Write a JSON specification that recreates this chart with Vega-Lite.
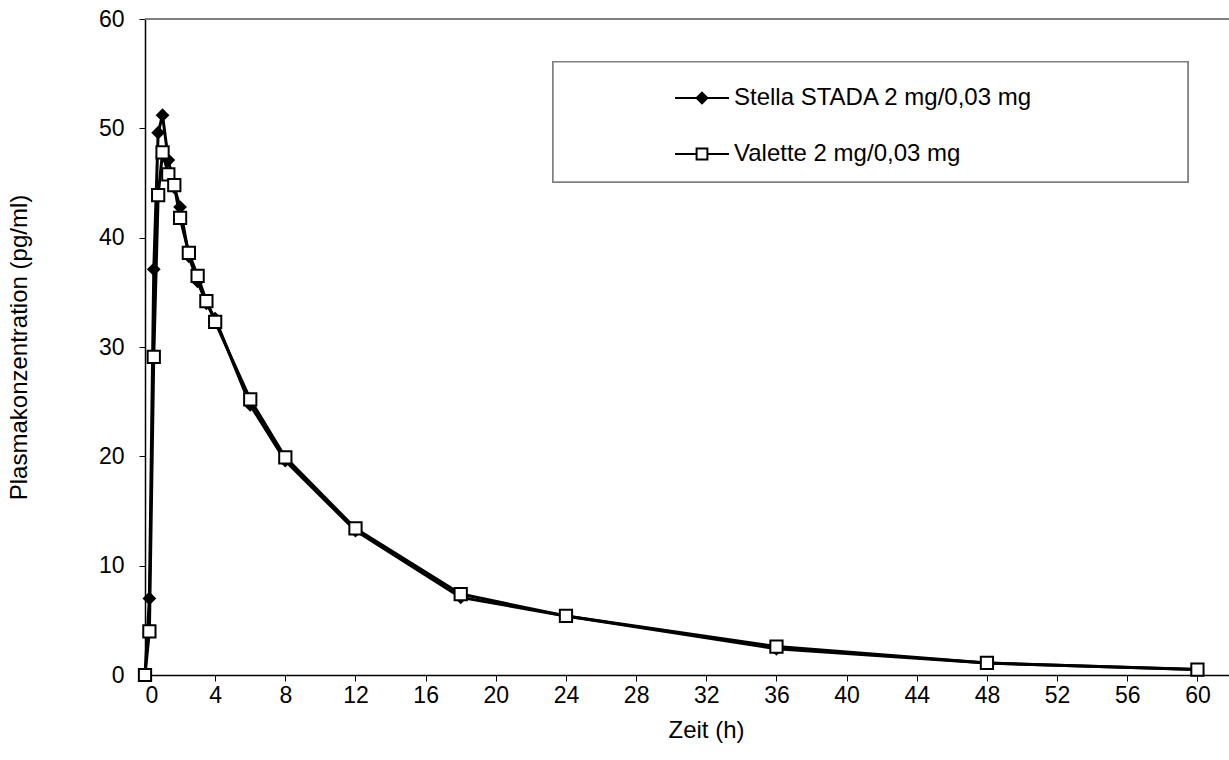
{
  "$schema": "https://vega.github.io/schema/vega-lite/v6.json",
  "autosize": "none",
  "width": 1084,
  "height": 656,
  "padding": {"left": 145, "top": 19, "right": 0, "bottom": 85},
  "background": "white",
  "config": {
    "view": {"stroke": null},
    "font": "Liberation Sans",
    "axis": {"labelFont": "Liberation Sans", "titleFont": "Liberation Sans", "labelColor": "black", "titleColor": "black", "titleFontWeight": "normal", "grid": false, "domainColor": "black", "tickColor": "black", "domainWidth": 1.5, "tickWidth": 1, "tickSize": 6}
  },
  "data": {
    "values": [
      {"t": 0, "c": 0, "s": "Stella STADA 2 mg/0,03 mg"},
      {"t": 0.25, "c": 7.0, "s": "Stella STADA 2 mg/0,03 mg"},
      {"t": 0.5, "c": 37.1, "s": "Stella STADA 2 mg/0,03 mg"},
      {"t": 0.75, "c": 49.6, "s": "Stella STADA 2 mg/0,03 mg"},
      {"t": 1, "c": 51.2, "s": "Stella STADA 2 mg/0,03 mg"},
      {"t": 1.33, "c": 47.1, "s": "Stella STADA 2 mg/0,03 mg"},
      {"t": 1.67, "c": 44.6, "s": "Stella STADA 2 mg/0,03 mg"},
      {"t": 2, "c": 42.8, "s": "Stella STADA 2 mg/0,03 mg"},
      {"t": 2.5, "c": 38.3, "s": "Stella STADA 2 mg/0,03 mg"},
      {"t": 3, "c": 36.0, "s": "Stella STADA 2 mg/0,03 mg"},
      {"t": 3.5, "c": 34.0, "s": "Stella STADA 2 mg/0,03 mg"},
      {"t": 4, "c": 32.6, "s": "Stella STADA 2 mg/0,03 mg"},
      {"t": 6, "c": 24.7, "s": "Stella STADA 2 mg/0,03 mg"},
      {"t": 8, "c": 19.6, "s": "Stella STADA 2 mg/0,03 mg"},
      {"t": 12, "c": 13.2, "s": "Stella STADA 2 mg/0,03 mg"},
      {"t": 18, "c": 7.1, "s": "Stella STADA 2 mg/0,03 mg"},
      {"t": 24, "c": 5.4, "s": "Stella STADA 2 mg/0,03 mg"},
      {"t": 36, "c": 2.4, "s": "Stella STADA 2 mg/0,03 mg"},
      {"t": 48, "c": 1.1, "s": "Stella STADA 2 mg/0,03 mg"},
      {"t": 60, "c": 0.5, "s": "Stella STADA 2 mg/0,03 mg"},
      {"t": 0, "c": 0, "s": "Valette 2 mg/0,03 mg"},
      {"t": 0.25, "c": 4.0, "s": "Valette 2 mg/0,03 mg"},
      {"t": 0.5, "c": 29.1, "s": "Valette 2 mg/0,03 mg"},
      {"t": 0.75, "c": 43.9, "s": "Valette 2 mg/0,03 mg"},
      {"t": 1, "c": 47.8, "s": "Valette 2 mg/0,03 mg"},
      {"t": 1.33, "c": 45.8, "s": "Valette 2 mg/0,03 mg"},
      {"t": 1.67, "c": 44.8, "s": "Valette 2 mg/0,03 mg"},
      {"t": 2, "c": 41.8, "s": "Valette 2 mg/0,03 mg"},
      {"t": 2.5, "c": 38.6, "s": "Valette 2 mg/0,03 mg"},
      {"t": 3, "c": 36.5, "s": "Valette 2 mg/0,03 mg"},
      {"t": 3.5, "c": 34.2, "s": "Valette 2 mg/0,03 mg"},
      {"t": 4, "c": 32.3, "s": "Valette 2 mg/0,03 mg"},
      {"t": 6, "c": 25.2, "s": "Valette 2 mg/0,03 mg"},
      {"t": 8, "c": 19.9, "s": "Valette 2 mg/0,03 mg"},
      {"t": 12, "c": 13.4, "s": "Valette 2 mg/0,03 mg"},
      {"t": 18, "c": 7.4, "s": "Valette 2 mg/0,03 mg"},
      {"t": 24, "c": 5.4, "s": "Valette 2 mg/0,03 mg"},
      {"t": 36, "c": 2.6, "s": "Valette 2 mg/0,03 mg"},
      {"t": 48, "c": 1.1, "s": "Valette 2 mg/0,03 mg"},
      {"t": 60, "c": 0.5, "s": "Valette 2 mg/0,03 mg"}
    ]
  },
  "layer": [
    {
      "mark": {"type": "rect", "fill": "white", "stroke": "#808080", "strokeWidth": 1.5},
      "encoding": {
        "x": {"datum": 23.26, "type": "quantitative"},
        "x2": {"datum": 59.46},
        "y": {"datum": 56.1, "type": "quantitative"},
        "y2": {"datum": 45.1}
      }
    },
    {
      "mark": {"type": "rule", "color": "#808080", "strokeWidth": 2},
      "encoding": {"y": {"datum": 60, "type": "quantitative"}}
    },
    {
      "mark": {"type": "line", "color": "black", "strokeWidth": 3},
      "encoding": {
        "x": {"field": "t", "type": "quantitative", "scale": {"domain": [0, 61.8], "nice": false, "zero": false},
              "axis": {"values": [0,4,8,12,16,20,24,28,32,36,40,44,48,52,56,60], "title": "Zeit (h)", "labelFontSize": 23, "titleFontSize": 24, "labelPadding": 3, "titleX": 561, "titleY": 55, "titleBaseline": "middle"}},
        "y": {"field": "c", "type": "quantitative", "scale": {"domain": [0, 60], "nice": false},
              "axis": {"values": [0,10,20,30,40,50,60], "title": "Plasmakonzentration (pg/ml)", "labelFontSize": 23, "titleFontSize": 24, "labelPadding": 15, "titleX": -126, "titleBaseline": "middle"}},
        "detail": {"field": "s"}
      }
    },
    {
      "transform": [{"filter": "datum.s === 'Stella STADA 2 mg/0,03 mg'"}],
      "mark": {"type": "point", "shape": "diamond", "filled": true, "color": "black", "size": 190, "opacity": 1},
      "encoding": {
        "x": {"field": "t", "type": "quantitative"},
        "y": {"field": "c", "type": "quantitative"}
      }
    },
    {
      "transform": [{"filter": "datum.s === 'Valette 2 mg/0,03 mg'"}],
      "mark": {"type": "point", "shape": "square", "filled": true, "fill": "white", "stroke": "black", "strokeWidth": 2, "size": 150, "opacity": 1},
      "encoding": {
        "x": {"field": "t", "type": "quantitative"},
        "y": {"field": "c", "type": "quantitative"}
      }
    },
    {
      "mark": {"type": "point", "filled": true, "stroke": "black", "strokeWidth": 2, "opacity": 0},
      "encoding": {
        "x": {"field": "t", "type": "quantitative"},
        "y": {"field": "c", "type": "quantitative"},
        "color": {
          "field": "s", "type": "nominal",
          "scale": {"domain": ["Stella STADA 2 mg/0,03 mg", "Valette 2 mg/0,03 mg"], "range": ["black", "white"]}
        },
        "shape": {
          "field": "s", "type": "nominal",
          "scale": {
            "domain": ["Stella STADA 2 mg/0,03 mg", "Valette 2 mg/0,03 mg"],
            "range": ["M-1,0L-0.2,0M0.2,0L1,0M0,-0.2L0.2,0L0,0.2L-0.2,0Z", "M-1,0L-0.2,0M0.2,0L1,0M-0.2,-0.2L0.2,-0.2L0.2,0.2L-0.2,0.2Z"]
          },
          "legend": {
            "orient": "none", "legendX": 529, "legendY": 51, "title": null,
            "symbolSize": 2916, "symbolStrokeWidth": 2,
            "symbolOpacity": 1,
            "labelFontSize": 24, "labelFont": "Liberation Sans", "labelColor": "black",
            "labelOffset": 4, "rowPadding": 16, "padding": 0, "labelLimit": 600
          }
        }
      }
    }
  ]
}
